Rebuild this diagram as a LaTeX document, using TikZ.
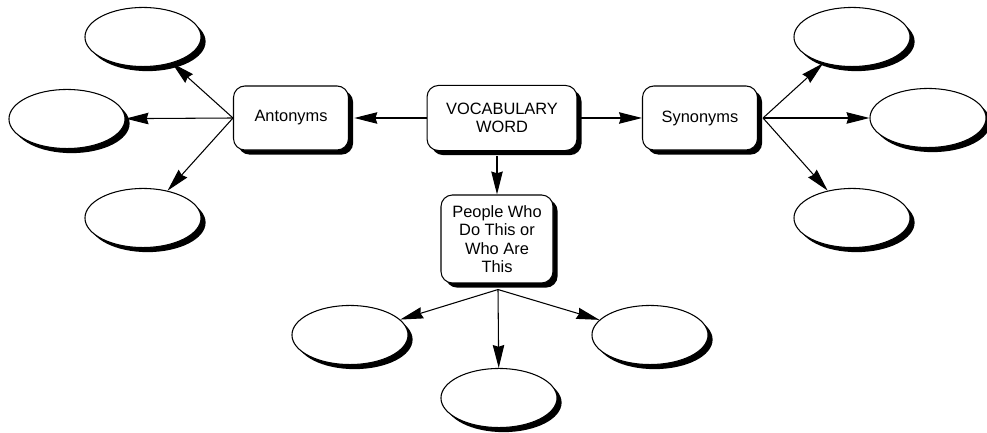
\documentclass[tikz,border=0pt]{standalone}
\usepackage{fontspec}
\setmainfont{Liberation Sans}
\usetikzlibrary{shapes.geometric,shadows,arrows.meta,calc}
\begin{document}
\begin{tikzpicture}[x=0.567pt,y=-0.567pt,
  solidshadow/.style={drop shadow={shadow xshift=2.6pt,shadow yshift=-2.6pt,fill=black,opacity=1}},
  wordbox/.style={draw,line width=0.6pt,fill=white,rounded corners=6.5pt,align=center,
    font=\fontsize{9.3}{10.4}\selectfont,inner sep=2pt,solidshadow},
  blank/.style={draw,ellipse,line width=0.6pt,fill=white,minimum width=65.8pt,
    minimum height=33.5pt,inner sep=0pt,solidshadow},
  link/.style={line width=0.6pt,-{Stealth[length=13pt,width=6.5pt,inset=1pt]}}]
\useasboundingbox (0,0) rectangle (987,433);

% central word and its three branches
\node[wordbox,minimum width=85pt,minimum height=36.9pt] (voc) at (502,118) {VOCABULARY\\WORD};
\node[wordbox,minimum width=65.2pt,minimum height=36.3pt] (ant) at (291,118) {Antonyms};
\node[wordbox,minimum width=65.2pt,minimum height=36.3pt] (syn) at (700,118) {Synonyms};
\node[wordbox,minimum width=63.5pt,minimum height=49.9pt] (ppl) at (497,239) {People Who\\Do This or\\Who Are\\This};

% empty answer ellipses
\node[blank] (a1) at (143,37) {};
\node[blank] (a2) at (67,119) {};
\node[blank] (a3) at (143,218) {};
\node[blank] (s1) at (852,37) {};
\node[blank] (s2) at (928,118) {};
\node[blank] (s3) at (852,218) {};
\node[blank] (p1) at (350,335) {};
\node[blank] (p2) at (499,398) {};
\node[blank] (p3) at (650,335) {};

% branch points just past the shadows
\coordinate (vl) at (voc.west);
\coordinate (vr) at ($(voc.east)+(4,0)$);
\coordinate (vb) at ($(voc.south -| ppl.north)+(0,5)$);
\coordinate (sr) at ($(syn.east)+(5,0)$);
\coordinate (pb) at ($(ppl.south)+(1,6)$);

% connectors
\draw[link,shorten >=3pt] (vl) -- (ant.east);
\draw[link] (vr) -- (syn.west);
\draw[link] (vb) -- (ppl.north);

\draw[link] (ant.west) -- (a1);
\draw[link] (ant.west) -- (a2);
\draw[link] (ant.west) -- (a3);

\draw[link] (sr) -- (s1);
\draw[link] (sr) -- (s2);
\draw[link] (sr) -- (s3);

\draw[link] (pb) -- (p1);
\draw[link] (pb) -- (p2);
\draw[link] (pb) -- (p3);
\end{tikzpicture}
\end{document}
